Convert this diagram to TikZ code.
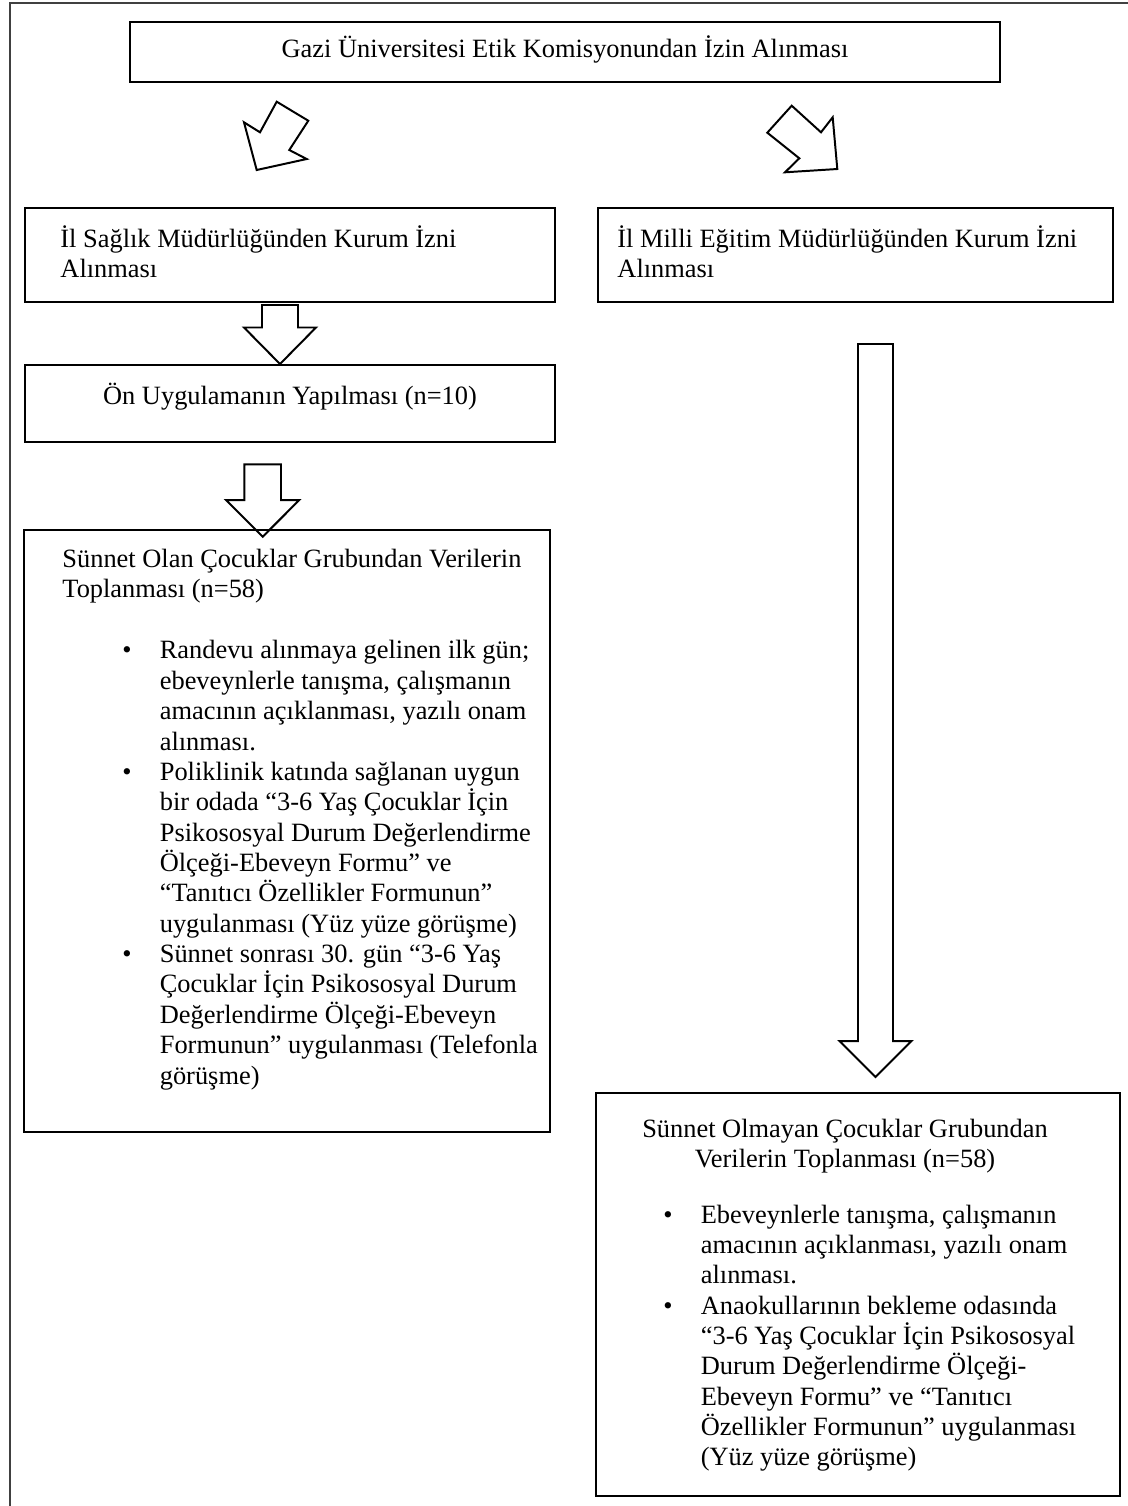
\documentclass[tikz,border=0pt]{standalone}
\usepackage{fontspec}
\setmainfont{Liberation Serif}
\usetikzlibrary{fit}
\newcommand{\bul}{\makebox[17pt][l]{\textbullet}}
\newcommand{\bcn}{\hspace*{17pt}}

\begin{document}
\begin{tikzpicture}[x=0.4545pt,y=-0.4545pt,
  box/.style={draw,line width=0.5pt,inner sep=0pt},
  txt/.style={inner sep=0pt,font=\fontsize{12}{13.8}\selectfont},
  blk/.style={draw,line width=0.9pt,line join=miter}]
\useasboundingbox (0,0) rectangle (1128,1506);
\draw[line width=0.7pt,black!75] (1128,3) -- (10,3) -- (10,1506);

% boxes
\node[box,fit={(130,22) (1000,82)}] (gazi) {};
\node[box,fit={(25,208) (555,302)}] (saglik) {};
\node[box,fit={(598,208) (1113,302)}] (meb) {};
\node[box,fit={(25,365) (555,442)}] (on) {};
\node[box,fit={(24,530) (550,1132)}] (olan) {};
\node[box,fit={(596,1093) (1120,1496)}] (olmayan) {};

% texts (multi-line nodes sit on their last line)
\node[txt,anchor=base] (gaziT) at (565,57) {Gazi Üniversitesi Etik Komisyonundan İzin Alınması};
\node[txt,anchor=base west,align=left] (saglikT) at (60,277.4) {İl Sağlık Müdürlüğünden Kurum İzni\\Alınması};
\node[txt,anchor=base west,align=left] (mebT) at (617,277.4) {İl Milli Eğitim Müdürlüğünden Kurum İzni\\Alınması};
\node[txt,anchor=base] (onT) at (290,404) {Ön Uygulamanın Yapılması (n=10)};
\node[txt,anchor=base west,align=left] (olanT) at (62,597.4) {Sünnet Olan Çocuklar Grubundan Verilerin\\Toplanması (n=58)};
\node[txt,anchor=base west,align=left] (olanL) at (122,1084) {\bul Randevu alınmaya gelinen ilk gün;\\
\bcn ebeveynlerle tanışma, çalışmanın\\
\bcn amacının açıklanması, yazılı onam\\
\bcn alınması.\\
\bul Poliklinik katında sağlanan uygun\\
\bcn bir odada “3-6 Yaş Çocuklar İçin\\
\bcn Psikososyal Durum Değerlendirme\\
\bcn Ölçeği-Ebeveyn Formu” ve\\
\bcn “Tanıtıcı Özellikler Formunun”\\
\bcn uygulanması (Yüz yüze görüşme)\\
\bul Sünnet sonrası 30. gün “3-6 Yaş\\
\bcn Çocuklar İçin Psikososyal Durum\\
\bcn Değerlendirme Ölçeği-Ebeveyn\\
\bcn Formunun” uygulanması (Telefonla\\
\bcn görüşme)};
\node[txt,anchor=base,align=center] (olmayanT) at (845,1167.4) {Sünnet Olmayan Çocuklar Grubundan\\Verilerin Toplanması (n=58)};
\node[txt,anchor=base west,align=left] (olmayanL) at (663,1465.9) {\bul Ebeveynlerle tanışma, çalışmanın\\
\bcn amacının açıklanması, yazılı onam\\
\bcn alınması.\\
\bul Anaokullarının bekleme odasında\\
\bcn “3-6 Yaş Çocuklar İçin Psikososyal\\
\bcn Durum Değerlendirme Ölçeği-\\
\bcn Ebeveyn Formu” ve “Tanıtıcı\\
\bcn Özellikler Formunun” uygulanması\\
\bcn (Yüz yüze görüşme)};

% block arrows
\draw[blk] (276.7,101.7) -- (308.3,120.7) -- (289.3,150) -- (306.7,159) -- (256.7,170) -- (244,122.3) -- (260,132.3) -- cycle;
\draw[blk] (791.7,105.7) -- (821,132.3) -- (832.7,117.3) -- (837.3,169) -- (785,172.3) -- (799.3,158.3) -- (767.3,132.7) -- cycle;
\draw[blk] (262,305) -- (298,305) -- (298,327.5) -- (316,327.5) -- (280,364) -- (244,327.5) -- (262,327.5) -- cycle;
\draw[blk] (244.3,464.3) -- (281,464.3) -- (281,500) -- (299.3,500) -- (262.7,536.7) -- (226,500) -- (244.3,500) -- cycle;
\draw[blk] (858,344) -- (893,344) -- (893,1041) -- (911.5,1041) -- (875.5,1077) -- (839.5,1041) -- (858,1041) -- cycle;
\end{tikzpicture}
\end{document}
